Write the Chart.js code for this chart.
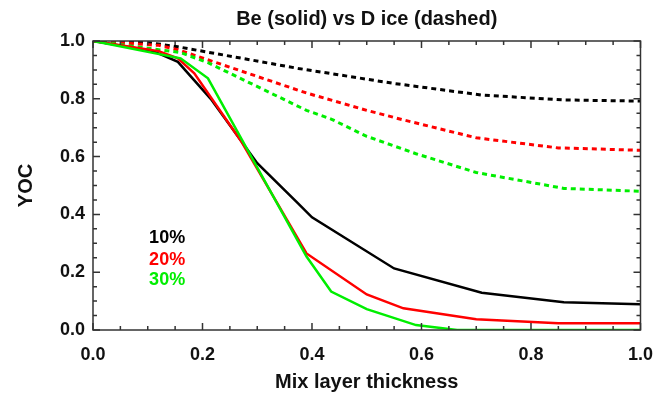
<!DOCTYPE html>
<html>
<head>
<meta charset="utf-8">
<script src="https://cdn.jsdelivr.net/npm/chart.js@4.4.1/dist/chart.umd.min.js"></script>
<style>
html, body { margin: 0; padding: 0; background: #fff; }
</style>
</head>
<body>
<canvas id="yocChart" width="667" height="397"></canvas>
<script>
// Be (solid) curves
const be10X = [0, 0.11, 0.155, 0.215, 0.30, 0.375, 0.40, 0.55, 0.71, 0.86, 1.0];
const be10Y = [1.0, 0.965, 0.928, 0.80, 0.577, 0.437, 0.39, 0.213, 0.129, 0.096, 0.089];
const be20X = [0, 0.12, 0.155, 0.185, 0.27, 0.39, 0.50, 0.567, 0.70, 0.85, 1.0];
const be20Y = [1.0, 0.965, 0.94, 0.888, 0.655, 0.265, 0.123, 0.075, 0.037, 0.023, 0.023];
const be30X = [0, 0.16, 0.21, 0.39, 0.435, 0.50, 0.59, 0.665, 1.0];
const be30Y = [1.0, 0.94, 0.871, 0.254, 0.133, 0.072, 0.017, 0.0, 0.0];

// D ice (dashed) curves
const d10X = [0, 0.10, 0.155, 0.375, 0.55, 0.71, 0.86, 1.0];
const d10Y = [1.0, 0.995, 0.98, 0.905, 0.853, 0.813, 0.796, 0.792];
const d20X = [0, 0.12, 0.155, 0.39, 0.50, 0.567, 0.70, 0.85, 1.0];
const d20Y = [1.0, 0.985, 0.97, 0.82, 0.76, 0.727, 0.665, 0.63, 0.622];
const d30X = [0, 0.16, 0.21, 0.39, 0.435, 0.50, 0.59, 0.70, 0.86, 1.0];
const d30Y = [1.0, 0.96, 0.925, 0.76, 0.73, 0.67, 0.61, 0.545, 0.49, 0.48];

const mixLabels = ['10%', '20%', '30%'];
const mixColors = ['#000000', '#ff0000', '#00ee00'];

const toPoints = (xs, ys) => xs.map((x, i) => ({ x: x, y: ys[i] }));

const boldFont = size => ({ family: '"Liberation Sans", Arial, sans-serif', size: size, weight: 'bold' });

// box round the plot with inward ticks, title and the little legend
const framePlugin = {
    id: 'framePlugin',
    afterDatasetsDraw(chart) {
        const { ctx, chartArea: { left, right, top, bottom }, scales: { x, y } } = chart;
        ctx.save();
        ctx.strokeStyle = '#333';
        ctx.lineWidth = 1.5;
        ctx.strokeRect(left, top, right - left, bottom - top);
        ctx.beginPath();
        for (let i = 0; i <= 20; i++) {
            const v = i * 0.05;
            const len = i % 4 === 0 ? 7 : 4;
            const px = x.getPixelForValue(v);
            const py = y.getPixelForValue(v);
            ctx.moveTo(px, bottom); ctx.lineTo(px, bottom - len);
            ctx.moveTo(px, top); ctx.lineTo(px, top + len);
            ctx.moveTo(left, py); ctx.lineTo(left + len, py);
            ctx.moveTo(right, py); ctx.lineTo(right - len, py);
        }
        ctx.stroke();

        ctx.fillStyle = '#111';
        ctx.font = 'bold 20px "Liberation Sans", Arial, sans-serif';
        ctx.textAlign = 'center';
        ctx.textBaseline = 'middle';
        ctx.fillText('Be (solid) vs D ice (dashed)', (left + right) / 2, 19);

        ctx.font = 'bold 18px "Liberation Sans", Arial, sans-serif';
        ctx.textAlign = 'left';
        const legY = [0.318, 0.243, 0.174];
        mixLabels.forEach((txt, i) => {
            ctx.fillStyle = mixColors[i];
            ctx.fillText(txt, x.getPixelForValue(0.1025), y.getPixelForValue(legY[i]));
        });
        ctx.restore();
    }
};

const solid = (xs, ys, color) => ({
    data: toPoints(xs, ys),
    borderColor: color,
    borderWidth: 2.5,
    pointRadius: 0,
    tension: 0
});
const dashed = (xs, ys, color) => ({
    data: toPoints(xs, ys),
    borderColor: color,
    borderWidth: 3,
    borderDash: [5, 4],
    pointRadius: 0,
    tension: 0
});

new Chart(document.getElementById('yocChart').getContext('2d'), {
    type: 'line',
    data: {
        datasets: [
            solid(be30X, be30Y, mixColors[2]),
            solid(be20X, be20Y, mixColors[1]),
            solid(be10X, be10Y, mixColors[0]),
            dashed(d30X, d30Y, mixColors[2]),
            dashed(d20X, d20Y, mixColors[1]),
            dashed(d10X, d10Y, mixColors[0])
        ]
    },
    options: {
        responsive: false,
        animation: false,
        layout: { padding: { top: 41, right: 18, left: 0, bottom: 0 } },
        plugins: {
            legend: { display: false },
            tooltip: { enabled: false }
        },
        scales: {
            x: {
                type: 'linear',
                min: 0,
                max: 1,
                afterFit(scale) { scale.height = 67; },
                grid: { display: false, drawTicks: false },
                border: { display: false },
                ticks: {
                    stepSize: 0.2,
                    padding: 14,
                    maxRotation: 0,
                    color: '#111',
                    font: boldFont(18),
                    callback: v => v.toFixed(1)
                },
                title: {
                    display: true,
                    text: 'Mix layer thickness',
                    color: '#111',
                    font: boldFont(20),
                    padding: { top: 0, bottom: 3 }
                }
            },
            y: {
                type: 'linear',
                min: 0,
                max: 1,
                afterFit(scale) { scale.width = 93; },
                grid: { display: false, drawTicks: false },
                border: { display: false },
                ticks: {
                    stepSize: 0.2,
                    padding: 8,
                    color: '#111',
                    font: boldFont(18),
                    callback: v => v.toFixed(1)
                },
                title: {
                    display: true,
                    text: 'YOC',
                    color: '#111',
                    font: boldFont(20),
                    padding: { top: 14, bottom: 0 }
                }
            }
        }
    },
    plugins: [framePlugin]
});
</script>
</body>
</html>
